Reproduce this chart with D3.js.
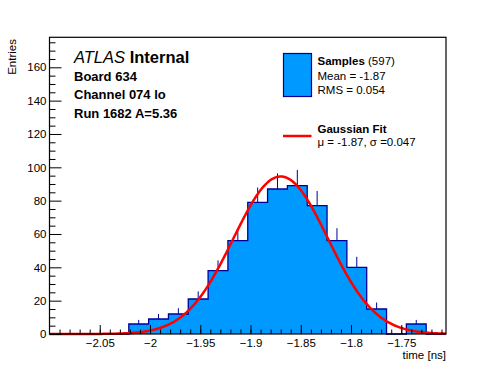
<!DOCTYPE html>
<html><head><meta charset="utf-8">
<script src="https://cdn.jsdelivr.net/npm/d3@7"></script>
<style>
html,body{margin:0;padding:0;background:#fff;}
svg{display:block;font-family:"Liberation Sans",Arial,Helvetica,sans-serif;}
</style></head>
<body>
<svg id="c" width="496" height="372"></svg>
<script>
// ---- data ----
const histRange = [-2.1, -1.7055];      // histogram / axis x range
const counts = [0,0,0,0,6,9,12,21,38,56,79,87,89,77,56,40,15,0,6,0]; // 20 bins
const yMax = 178;
const xMajorTicks = [-2.05,-2.0,-1.95,-1.9,-1.85,-1.8,-1.75];
const yMajorTicks = [0,20,40,60,80,100,120,140,160];
const fitMu = -1.87, fitSigma = 0.047, fitAmp = 94.5;
const headerLines = ["Board 634","Channel 074 lo","Run 1682 A=5.36"];
const legendSamples = {title:"Samples", n:"(597)", lines:["Mean = -1.87","RMS = 0.054"]};
const legendFit = {title:"Gaussian Fit", line:"\u03bc = -1.87, \u03c3 =0.047"};

// ---- layout ----
const L=49.5, R=446, T=37.3, B=334;
const FILL="#0099ff", EDGE="#000099", RED="#ff0000";
const svg=d3.select("#c");
const x=d3.scaleLinear().domain(histRange).range([L,R]);
const y=d3.scaleLinear().domain([0,yMax]).range([B,T]);
const nb=counts.length, bw=(histRange[1]-histRange[0])/nb;
const bins=counts.map((c,i)=>({lo:histRange[0]+i*bw, hi:histRange[0]+(i+1)*bw, c}));

// histogram fill + outline
let pts=[[x(bins[0].lo),y(0)]];
bins.forEach(b=>{pts.push([x(b.lo),y(b.c)]);pts.push([x(b.hi),y(b.c)]);});
pts.push([x(bins[nb-1].hi),y(0)]);
svg.append("path").attr("d",d3.line()(pts)).attr("fill",FILL).attr("stroke",EDGE).attr("stroke-width",1.3);

// error bars (upper half)
svg.append("g").selectAll("line").data(bins.filter(b=>b.c>0)).join("line")
  .attr("x1",b=>x((b.lo+b.hi)/2)).attr("x2",b=>x((b.lo+b.hi)/2))
  .attr("y1",b=>y(b.c)).attr("y2",b=>y(b.c+Math.sqrt(b.c)))
  .attr("stroke",EDGE).attr("stroke-width",1);

// gaussian fit
const gx=d3.range(0,401).map(i=>histRange[0]+(histRange[1]-histRange[0])*i/400);
svg.append("path")
  .attr("d",d3.line().x(v=>x(v)).y(v=>y(fitAmp*Math.exp(-0.5*Math.pow((v-fitMu)/fitSigma,2))))(gx))
  .attr("fill","none").attr("stroke",RED).attr("stroke-width",2.5);

// axes
const fmt=d=>d3.format(".2~f")(d);
const xAx=svg.append("g").attr("transform",`translate(0,${B})`)
  .call(d3.axisBottom(x).tickValues(xMajorTicks).tickSizeInner(-9).tickSizeOuter(0).tickPadding(5).tickFormat(fmt));
const xMinor=d3.range(-209,-170).map(v=>v/100).filter(v=>v>histRange[0]&&v<histRange[1]);
const xAm=svg.append("g").attr("transform",`translate(0,${B})`)
  .call(d3.axisBottom(x).tickValues(xMinor).tickSizeInner(-4.5).tickSizeOuter(0).tickFormat(""));
const yAx=svg.append("g").attr("transform",`translate(${L},0)`)
  .call(d3.axisLeft(y).tickValues(yMajorTicks).tickSizeInner(-12).tickSizeOuter(0).tickPadding(3).tickFormat(d3.format("d")));
const yMinor=d3.range(0,yMax,5).filter(v=>v%20!==0);
const yAm=svg.append("g").attr("transform",`translate(${L},0)`)
  .call(d3.axisLeft(y).tickValues(yMinor).tickSizeInner(-6).tickSizeOuter(0).tickFormat(""));
[xAx,xAm,yAx,yAm].forEach(g=>{g.select(".domain").remove();g.selectAll("line").attr("stroke","#000");
  g.selectAll("text").attr("font-size",11.5).attr("fill","#000").attr("font-family","Liberation Sans, Arial, sans-serif");});

// frame
svg.append("rect").attr("x",L).attr("y",T).attr("width",R-L).attr("height",B-T)
  .attr("fill","none").attr("stroke","#000").attr("stroke-width",1.2);

// axis titles
svg.append("text").attr("x",R).attr("y",359).attr("text-anchor","end").attr("font-size",11.5).text("time [ns]");
svg.append("text").attr("transform","translate(16,39) rotate(-90)").attr("text-anchor","end").attr("font-size",11.5).text("Entries");

// ATLAS label
const at=svg.append("text").attr("x",74).attr("y",62.5).attr("font-size",16.5);
at.append("tspan").attr("font-style","italic").text("ATLAS");
at.append("tspan").attr("font-weight","bold").text(" Internal");
headerLines.forEach((t,i)=>svg.append("text").attr("x",74).attr("y",80.5+i*18.7)
  .attr("font-size",13).attr("font-weight","bold").text(t));

// legend
svg.append("rect").attr("x",283.5).attr("y",53.5).attr("width",28).attr("height",43)
  .attr("fill",FILL).attr("stroke",EDGE).attr("stroke-width",1.2);
const s1=svg.append("text").attr("x",317.5).attr("y",65).attr("font-size",11.5);
s1.append("tspan").attr("font-weight","bold").text(legendSamples.title);
s1.append("tspan").text(" "+legendSamples.n);
legendSamples.lines.forEach((t,i)=>svg.append("text").attr("x",317.5).attr("y",79.5+i*14).attr("font-size",11.5).text(t));
svg.append("line").attr("x1",283).attr("x2",311.5).attr("y1",136).attr("y2",136).attr("stroke",RED).attr("stroke-width",2.5);
svg.append("text").attr("x",317.5).attr("y",132.5).attr("font-size",11.5).attr("font-weight","bold").text(legendFit.title);
svg.append("text").attr("x",317.5).attr("y",146).attr("font-size",11.5).text(legendFit.line);
</script>
</body></html>
